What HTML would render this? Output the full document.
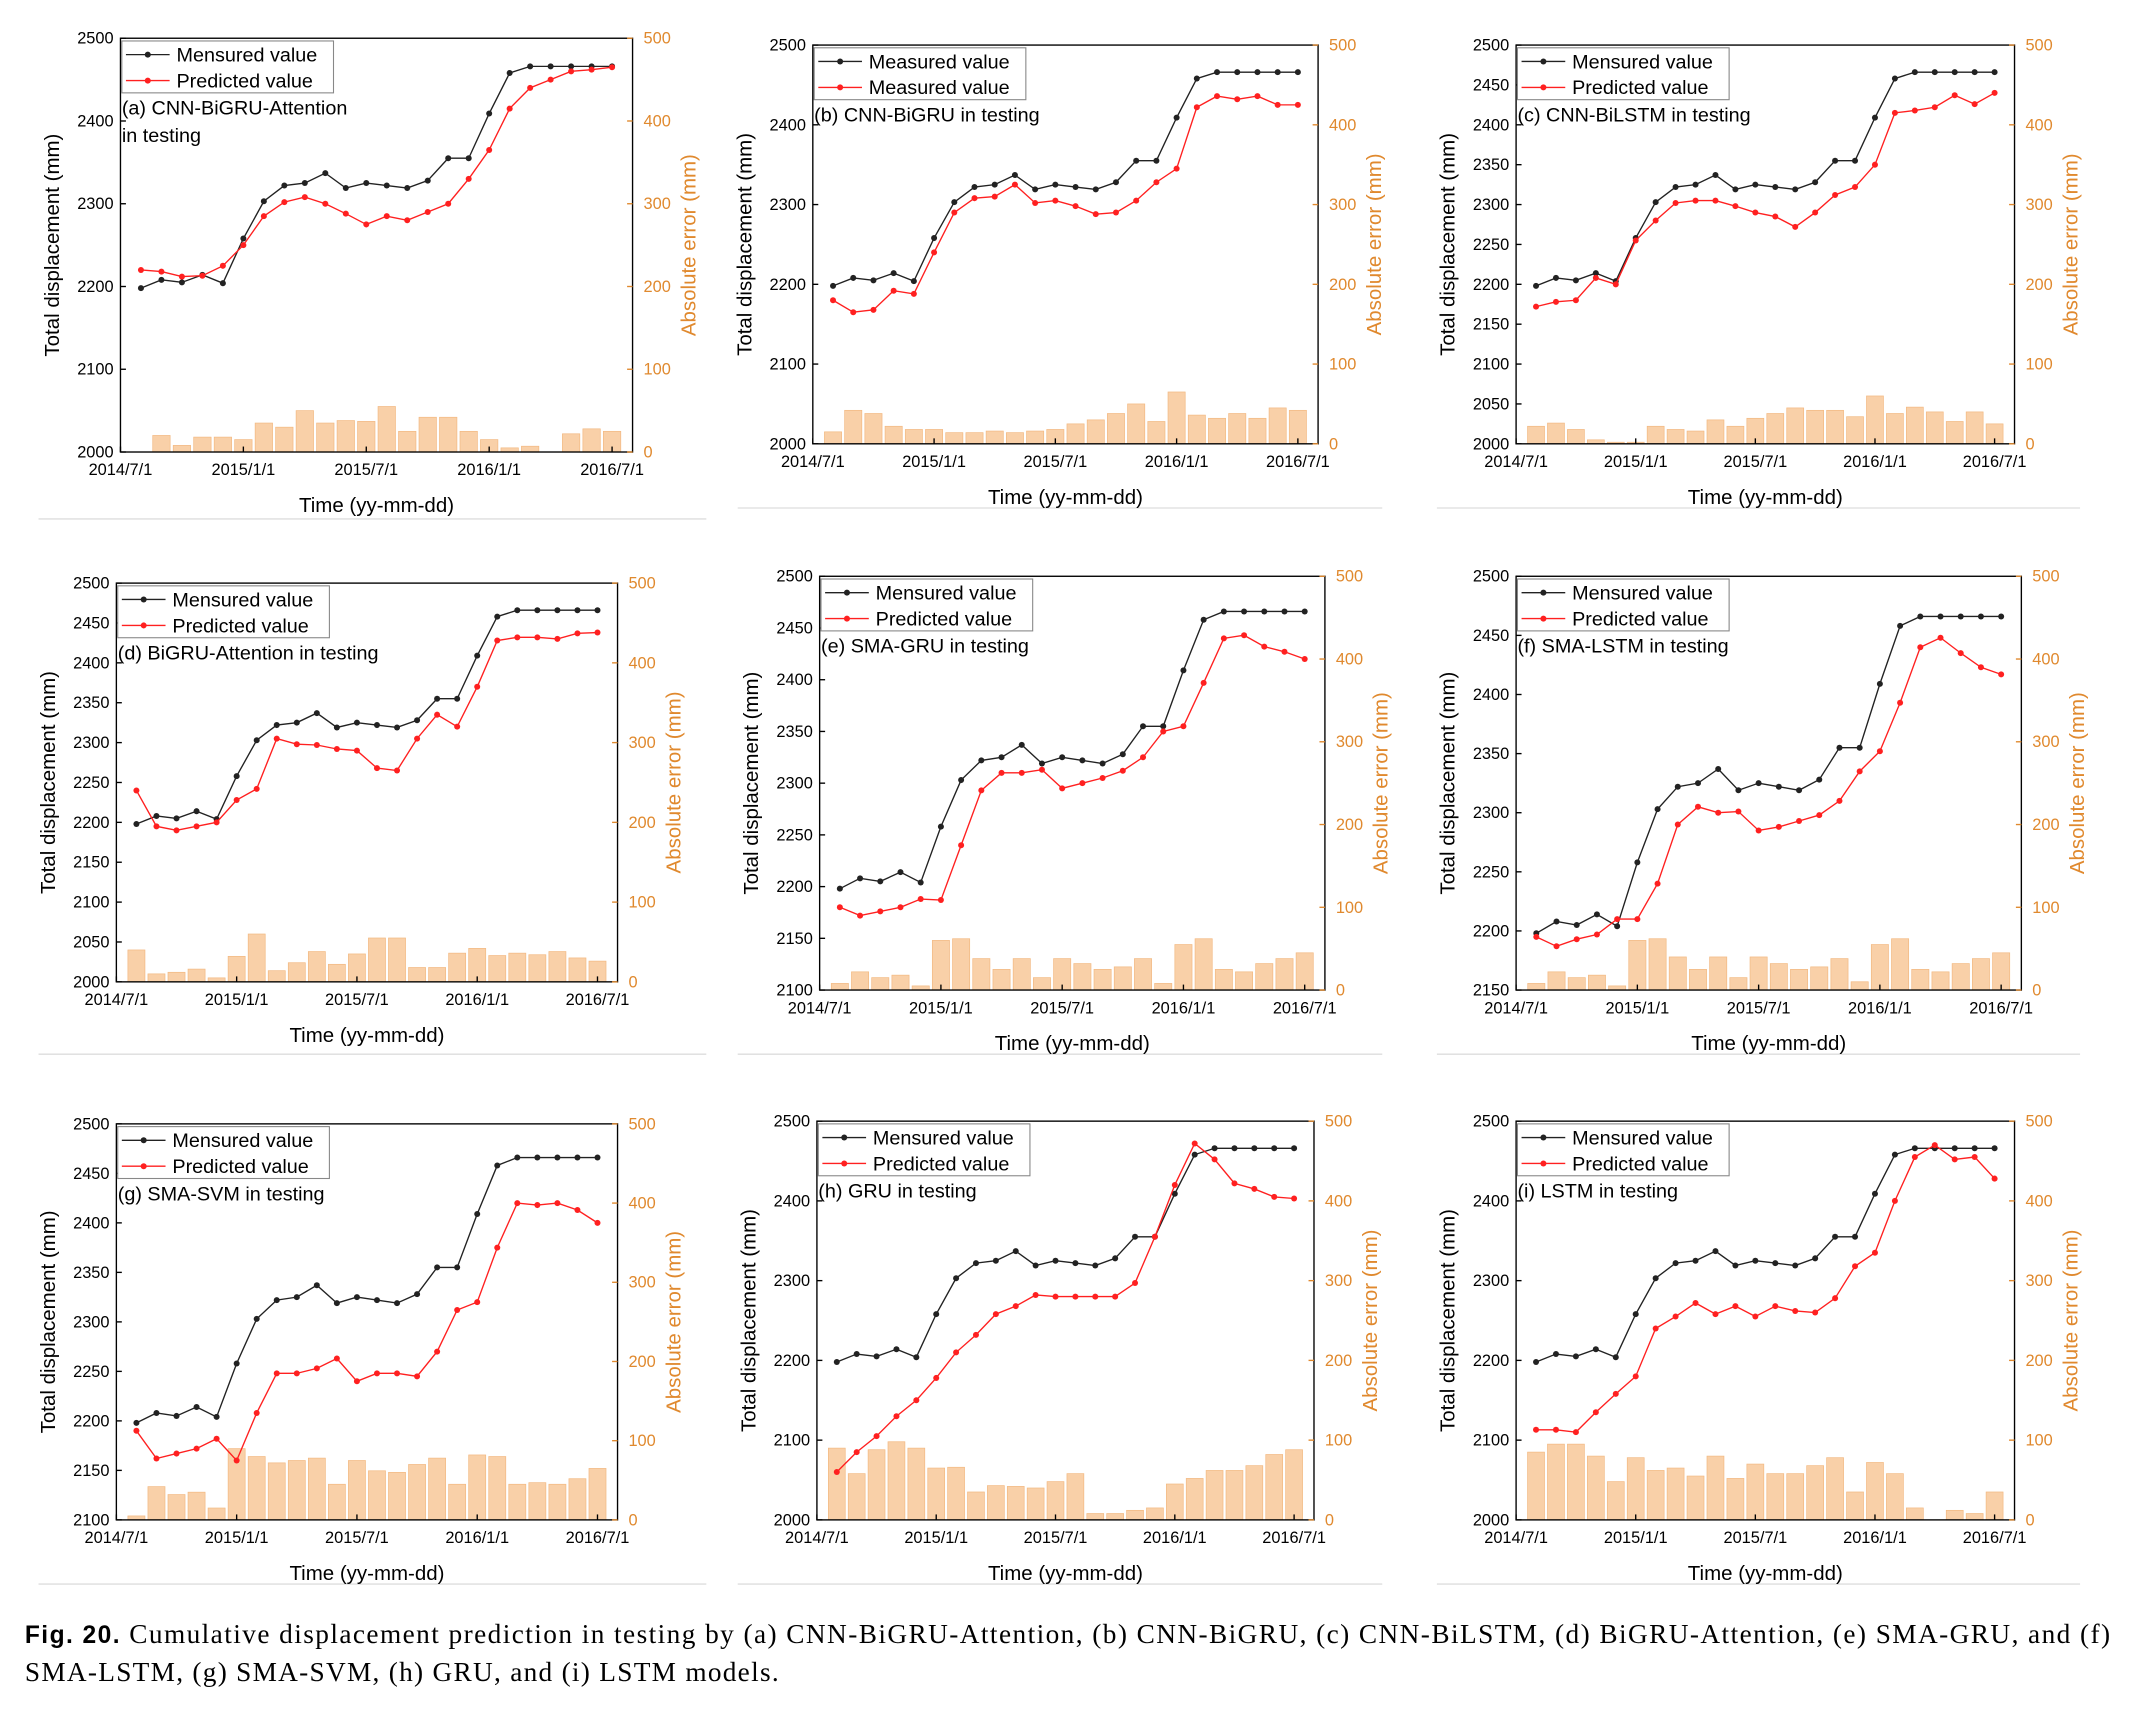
<!DOCTYPE html>
<html><head><meta charset="utf-8"><style>
html,body{margin:0;padding:0;background:#fff;}
svg{display:block;font-family:"Liberation Sans",Arial,sans-serif;}
</style></head><body>
<svg id="fig" width="2135" height="1722" viewBox="0 0 1563 1261" xmlns="http://www.w3.org/2000/svg">
<line x1="28" y1="380" x2="517" y2="380" stroke="#ddd"/>
<line x1="540" y1="372" x2="1012" y2="372" stroke="#ddd"/>
<line x1="1052" y1="372" x2="1523" y2="372" stroke="#ddd"/>
<line x1="28" y1="772" x2="517" y2="772" stroke="#ddd"/>
<line x1="540" y1="772" x2="1012" y2="772" stroke="#ddd"/>
<line x1="1052" y1="772" x2="1523" y2="772" stroke="#ddd"/>
<line x1="28" y1="1160" x2="517" y2="1160" stroke="#ddd"/>
<line x1="540" y1="1160" x2="1012" y2="1160" stroke="#ddd"/>
<line x1="1052" y1="1160" x2="1523" y2="1160" stroke="#ddd"/>
<text x="18" y="1203" font-family="Liberation Serif,serif" font-size="20" textLength="1527" lengthAdjust="spacing"><tspan font-weight="bold" font-family="Liberation Sans,sans-serif" font-size="18">Fig. 20.</tspan>  Cumulative displacement prediction in testing by (a) CNN-BiGRU-Attention, (b) CNN-BiGRU, (c) CNN-BiLSTM, (d) BiGRU-Attention, (e) SMA-GRU, and (f)</text>
<text x="18" y="1231" font-family="Liberation Serif,serif" font-size="20" textLength="552" lengthAdjust="spacing">SMA-LSTM, (g) SMA-SVM, (h) GRU, and (i) LSTM models.</text>
</svg>
<script>
const xTickLabels = ["2014/7/1","2015/1/1","2015/7/1","2016/1/1","2016/7/1"];
const measured = [2198,2208,2205,2214,2204,2258,2303,2322,2325,2337,2319,2325,2322,2319,2328,2355,2355,2409,2458,2466,2466,2466,2466,2466];
const predA = [2220,2218,2212,2213,2225,2250,2285,2302,2308,2300,2288,2275,2285,2280,2290,2300,2330,2365,2415,2440,2450,2460,2462,2465];
const predB = [2180,2165,2168,2192,2188,2240,2290,2308,2310,2325,2302,2305,2298,2288,2290,2305,2328,2345,2422,2436,2432,2436,2425,2425];
const predC = [2172,2178,2180,2208,2200,2255,2280,2302,2305,2305,2298,2290,2285,2272,2290,2312,2322,2350,2415,2418,2422,2437,2426,2440];
const predD = [2240,2195,2190,2195,2200,2228,2242,2305,2298,2297,2292,2290,2268,2265,2305,2335,2320,2370,2428,2432,2432,2430,2437,2438];
const predE = [2180,2172,2176,2180,2188,2187,2240,2293,2310,2310,2313,2295,2300,2305,2312,2325,2350,2355,2397,2440,2443,2432,2427,2420];
const predF = [2195,2187,2193,2197,2210,2210,2240,2290,2305,2300,2301,2285,2288,2293,2298,2310,2335,2352,2393,2440,2448,2435,2423,2417];
const predG = [2190,2162,2167,2172,2182,2160,2208,2248,2248,2253,2263,2240,2248,2248,2245,2270,2312,2320,2375,2420,2418,2420,2413,2400];
const predH = [2060,2085,2105,2130,2150,2178,2210,2232,2258,2268,2282,2280,2280,2280,2280,2297,2355,2420,2472,2452,2422,2415,2405,2403];
const predI = [2113,2113,2110,2135,2158,2180,2240,2255,2272,2258,2268,2255,2268,2262,2260,2278,2318,2335,2400,2455,2470,2452,2455,2428];
const errA = [0,20,8,18,18,15,35,30,50,35,38,37,55,25,42,42,25,15,5,7,0,22,28,25];
const errB = [15,42,38,22,18,18,14,14,16,14,16,18,25,30,38,50,28,65,36,32,38,32,45,42];
const errC = [22,26,18,5,2,2,22,18,16,30,22,32,38,45,42,42,34,60,38,46,40,28,40,25];
const errD = [40,10,12,16,5,32,60,14,24,38,22,35,55,55,18,18,36,42,33,36,34,38,30,26];
const errE = [8,22,15,18,5,60,62,38,25,38,15,38,32,25,28,38,8,55,62,25,22,32,38,45];
const errF = [8,22,15,18,5,60,62,40,25,40,15,40,32,25,28,38,10,55,62,25,22,32,38,45];
const errG = [5,42,32,35,15,90,80,72,75,78,45,75,62,60,70,78,45,82,80,45,47,45,52,65];
const errH = [90,58,88,98,90,65,66,35,43,42,40,48,58,8,8,12,15,45,52,62,62,68,82,88];
const errI = [85,95,95,80,48,78,62,65,55,80,52,70,58,58,68,78,35,72,58,15,0,12,8,35];

const panels = [
 {id:"a",L:88,R:463,T:28,B:331,ymin:2000,ymax:2500,step:100,pred:predA,err:errA,l1:"Mensured value",l2:"Predicted value",lab:["(a) CNN-BiGRU-Attention","in testing"]},
 {id:"b",L:595,R:965,T:33,B:325,ymin:2000,ymax:2500,step:100,pred:predB,err:errB,l1:"Measured value",l2:"Measured value",lab:["(b) CNN-BiGRU in testing"]},
 {id:"c",L:1110,R:1475,T:33,B:325,ymin:2000,ymax:2500,step:50,pred:predC,err:errC,l1:"Mensured value",l2:"Predicted value",lab:["(c) CNN-BiLSTM in testing"]},
 {id:"d",L:85,R:452,T:427,B:719,ymin:2000,ymax:2500,step:50,pred:predD,err:errD,l1:"Mensured value",l2:"Predicted value",lab:["(d) BiGRU-Attention in testing"]},
 {id:"e",L:600,R:970,T:422,B:725,ymin:2100,ymax:2500,step:50,pred:predE,err:errE,l1:"Mensured value",l2:"Predicted value",lab:["(e) SMA-GRU in testing"]},
 {id:"f",L:1110,R:1480,T:422,B:725,ymin:2150,ymax:2500,step:50,pred:predF,err:errF,l1:"Mensured value",l2:"Predicted value",lab:["(f) SMA-LSTM in testing"]},
 {id:"g",L:85,R:452,T:823,B:1113,ymin:2100,ymax:2500,step:50,pred:predG,err:errG,l1:"Mensured value",l2:"Predicted value",lab:["(g) SMA-SVM in testing"]},
 {id:"h",L:598,R:962,T:821,B:1113,ymin:2000,ymax:2500,step:100,pred:predH,err:errH,l1:"Mensured value",l2:"Predicted value",lab:["(h) GRU in testing"]},
 {id:"i",L:1110,R:1475,T:821,B:1113,ymin:2000,ymax:2500,step:100,pred:predI,err:errI,l1:"Mensured value",l2:"Predicted value",lab:["(i) LSTM in testing"]}
];
const NS="http://www.w3.org/2000/svg";
const svg=document.getElementById("fig");
function mk(parent,tag,attrs,txt){const e=document.createElementNS(NS,tag);for(const k in attrs)e.setAttribute(k,attrs[k]);if(txt!==undefined)e.textContent=txt;parent.appendChild(e);return e;}
const ORANGE="#e0892e";
panels.forEach(p=>{
 const g=mk(svg,"g",{});
 
 
 const W=p.R-p.L,H=p.B-p.T;
 const xs=m=>p.L+m*W/25;
 const ys=v=>p.B-(v-p.ymin)/(p.ymax-p.ymin)*H;
 const ye=v=>p.B-v/500*H;
 const bw=W/25*0.85;
 p.err.forEach((v,i)=>{
  const b=mk(g,"rect",{x:xs(i+1)-bw/2,y:ye(v),width:bw,height:p.B-ye(v),fill:"#f9d0a8",stroke:"#f2b880","stroke-width":0.5});
  
  
 });
 const box=mk(g,"rect",{x:p.L,y:p.T,width:W,height:H,fill:"none",stroke:"#000","stroke-width":1});
 
 
 for(let v=p.ymin;v<=p.ymax;v+=p.step){
  const y=ys(v);
  mk(g,"line",{x1:p.L,y1:y,x2:p.L+4,y2:y,stroke:"#000"});
  const t=mk(g,"text",{x:p.L-5,y:y+4,"font-size":12,"text-anchor":"end"},v);
  
  
 }
 for(let v=0;v<=500;v+=100){
  const y=ye(v);
  mk(g,"line",{x1:p.R-4,y1:y,x2:p.R,y2:y,stroke:ORANGE});
  const t=mk(g,"text",{x:p.R+8,y:y+4,"font-size":12,fill:ORANGE},v);
  
  
 }
 xTickLabels.forEach((s,k)=>{
  const x=xs(k*6);
  mk(g,"line",{x1:x,y1:p.B,x2:x,y2:p.B-4,stroke:"#000"});
  const t=mk(g,"text",{x:x,y:p.B+17,"font-size":12,"text-anchor":"middle"},s);
  
  
 });
 const xt=mk(g,"text",{x:(p.L+p.R)/2,y:p.B+44,"font-size":15,"text-anchor":"middle"},"Time (yy-mm-dd)");
 
 
 const yt=mk(g,"text",{x:0,y:0,"font-size":15,"text-anchor":"middle",transform:`translate(${p.L-45},${(p.T+p.B)/2}) rotate(-90)`},"Total displacement (mm)");
 
 
 const rt=mk(g,"text",{x:0,y:0,"font-size":15,"text-anchor":"middle",fill:ORANGE,transform:`translate(${p.R+46},${(p.T+p.B)/2}) rotate(-90)`},"Absolute error (mm)");
 
 
 const series=[[measured,"#222"],[p.pred,"#ff2020"]];
 series.forEach(([arr,c],si)=>{
  const pts=arr.map((v,i)=>xs(i+1)+","+ys(v)).join(" ");
  const pl=mk(g,"polyline",{points:pts,fill:"none",stroke:c,"stroke-width":1});
  
  
  arr.forEach((v,i)=>{
   const d=mk(g,"circle",{cx:xs(i+1),cy:ys(v),r:2.2,fill:c});
   
   
  });
 });
 const lw=155,lh=38;
 const lg=mk(g,"g",{});
 
 
 mk(lg,"rect",{x:p.L+1,y:p.T+2,width:lw,height:lh,fill:"#fff",stroke:"#888","stroke-width":0.8});
 [[p.l1,"#222"],[p.l2,"#ff2020"]].forEach(([s,c],k)=>{
  const y=p.T+12+k*19;
  mk(lg,"line",{x1:p.L+4,y1:y,x2:p.L+36,y2:y,stroke:c});
  mk(lg,"circle",{cx:p.L+20,cy:y,r:2.2,fill:c});
  const t=mk(lg,"text",{x:p.L+41,y:y+5,"font-size":14.5},s);
  
  
 });
 p.lab.forEach((s,k)=>{
  const t=mk(g,"text",{x:p.L+1,y:p.T+56+k*20,"font-size":14.5},s);
  
  
 });
});
</script>
</body></html>
